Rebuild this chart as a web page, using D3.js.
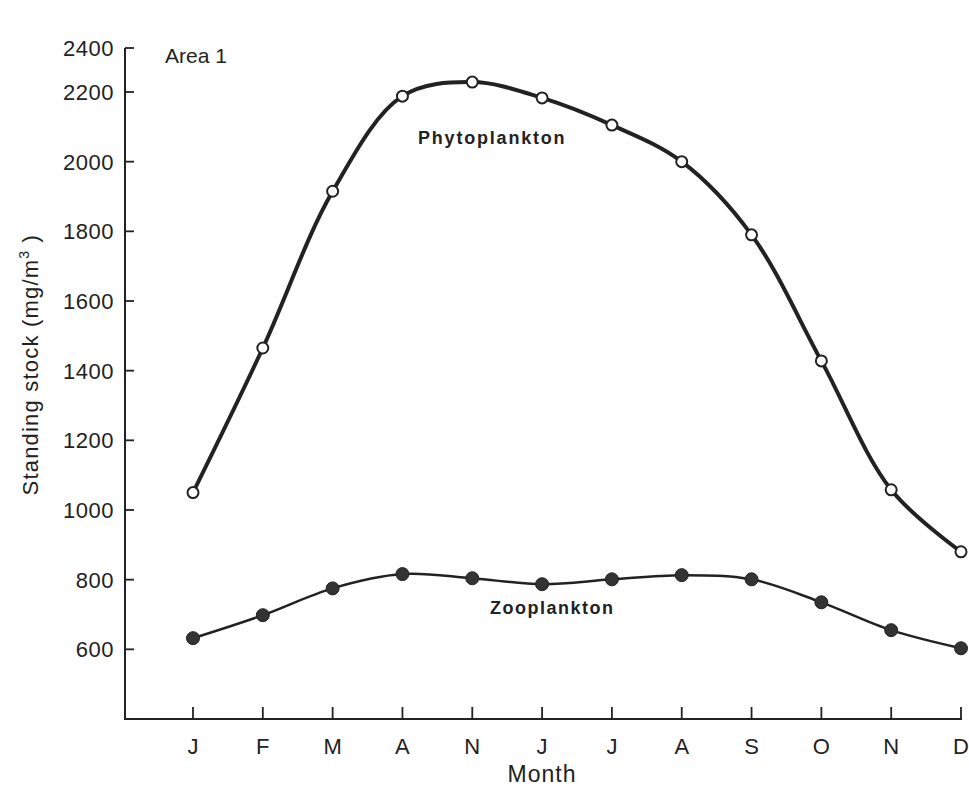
<!DOCTYPE html>
<html>
<head>
<meta charset="utf-8">
<script src="https://cdn.jsdelivr.net/npm/d3@7"></script>
<style>
  body { margin: 0; background: #fff; }
  text { font-family: "Liberation Sans", Arial, sans-serif; fill: #222; }
</style>
</head>
<body>
<div class="chart"></div>
<script>
const months = ['J', 'F', 'M', 'A', 'N', 'J', 'J', 'A', 'S', 'O', 'N', 'D']
const phyto = [1050, 1465, 1915, 2188, 2245, 2183, 2105, 2000, 1790, 1428, 1058, 880]
const zoo = [632, 698, 775, 816, 804, 787, 801, 813, 801, 735, 655, 603]
const yTicks = [600, 800, 1000, 1200, 1400, 1600, 1800, 2000, 2200, 2400]

const width = 969
const height = 788
const ink = '#222'

const svg = d3.select('.chart').append('svg')
    .attr('width', width)
    .attr('height', height)

// x: month index, y axis sits one step left of J
const xScale = d3.scaleLinear()
    .domain([0, 11])
    .range([193, 961])

// the printed axis squeezes the 2400 tick near the top
const yScale = d3.scaleLinear()
    .domain([400, 2200, 2400])
    .range([719, 92, 48])

const x0 = 125

// AXES
const yAxis = svg.append('g')
    .attr('transform', `translate(${x0},0)`)
yAxis.append('line')
    .attr('x1', 0).attr('x2', 0)
    .attr('y1', yScale(2400)).attr('y2', yScale(400) + 1)
    .attr('stroke', ink).attr('stroke-width', 2)
yAxis.selectAll('.tick')
    .data(yTicks)
    .join('line')
    .attr('x1', 0).attr('x2', 9)
    .attr('y1', d => yScale(d)).attr('y2', d => yScale(d))
    .attr('stroke', ink).attr('stroke-width', 1.8)
yAxis.selectAll('.lab')
    .data(yTicks)
    .join('text')
    .attr('x', -11)
    .attr('y', d => yScale(d))
    .attr('dy', '0.36em')
    .attr('text-anchor', 'end')
    .attr('font-size', 22)
    .attr('letter-spacing', 0.5)
    .text(d => d)

const xAxis = svg.append('g')
xAxis.append('line')
    .attr('x1', x0 - 1).attr('x2', xScale(11) + 1)
    .attr('y1', yScale(400)).attr('y2', yScale(400))
    .attr('stroke', ink).attr('stroke-width', 2)
xAxis.selectAll('.tick')
    .data(months)
    .join('line')
    .attr('x1', (d, i) => xScale(i)).attr('x2', (d, i) => xScale(i))
    .attr('y1', yScale(400) - 12).attr('y2', yScale(400))
    .attr('stroke', ink).attr('stroke-width', 1.8)
xAxis.selectAll('.lab')
    .data(months)
    .join('text')
    .attr('x', (d, i) => xScale(i))
    .attr('y', 754)
    .attr('text-anchor', 'middle')
    .attr('font-size', 22)
    .text(d => d)

// TITLES
svg.append('text')
    .attr('x', xScale(5))
    .attr('y', 782)
    .attr('text-anchor', 'middle')
    .attr('font-size', 23)
    .attr('letter-spacing', 1)
    .text('Month')

const yt = svg.append('text')
    .attr('transform', `translate(38,${yScale(1400) - 6}) rotate(-90)`)
    .attr('text-anchor', 'middle')
    .attr('font-size', 22)
    .attr('letter-spacing', 1.2)
yt.append('tspan').text('Standing stock  (mg/m')
yt.append('tspan').attr('dy', -9).attr('font-size', 14).text('3')
yt.append('tspan').attr('dy', 9).text(' )')

svg.append('text')
    .attr('x', 165)
    .attr('y', 63)
    .attr('font-size', 21)
    .text('Area 1')

svg.append('text')
    .attr('x', 418)
    .attr('y', 144)
    .attr('font-size', 18)
    .attr('font-weight', 'bold')
    .attr('letter-spacing', 1.8)
    .text('Phytoplankton')

svg.append('text')
    .attr('x', 490)
    .attr('y', 614)
    .attr('font-size', 18)
    .attr('font-weight', 'bold')
    .attr('letter-spacing', 1.5)
    .text('Zooplankton')

// LINES
const line = d3.line()
    .x((d, i) => xScale(i))
    .y(d => yScale(d))
    .curve(d3.curveCatmullRom.alpha(0.5))

svg.append('path')
    .datum(phyto)
    .attr('d', line)
    .attr('fill', 'none')
    .attr('stroke', ink)
    .attr('stroke-width', 4)

svg.append('path')
    .datum(zoo)
    .attr('d', line)
    .attr('fill', 'none')
    .attr('stroke', ink)
    .attr('stroke-width', 2.5)

// POINTS
svg.append('g')
    .selectAll('circle')
    .data(phyto)
    .join('circle')
    .attr('cx', (d, i) => xScale(i))
    .attr('cy', d => yScale(d))
    .attr('r', 5.5)
    .attr('fill', '#fff')
    .attr('stroke', ink)
    .attr('stroke-width', 2)

svg.append('g')
    .selectAll('circle')
    .data(zoo)
    .join('circle')
    .attr('cx', (d, i) => xScale(i))
    .attr('cy', d => yScale(d))
    .attr('r', 6.5)
    .attr('fill', '#333')
    .attr('stroke', ink)
    .attr('stroke-width', 1)
</script>
</body>
</html>
